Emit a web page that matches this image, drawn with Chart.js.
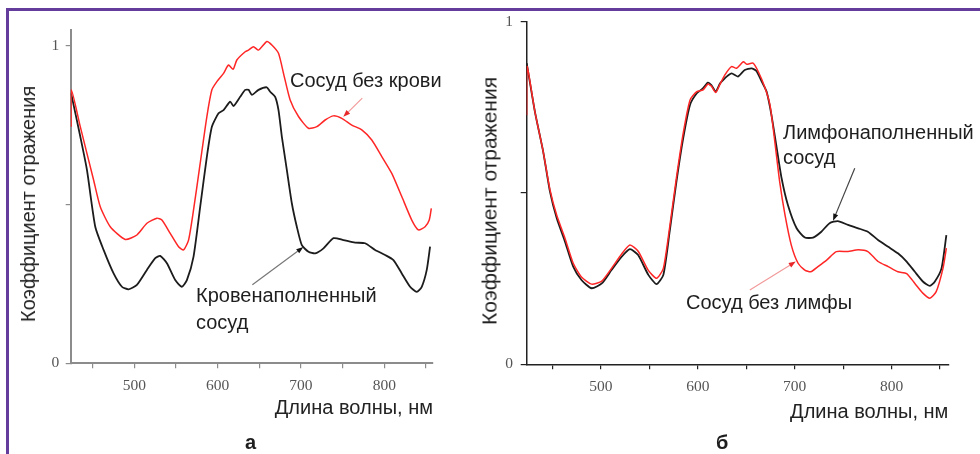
<!DOCTYPE html>
<html>
<head>
<meta charset="utf-8">
<script src="https://cdn.jsdelivr.net/npm/chart.js@4/dist/chart.umd.min.js"></script>
<style>
  body { margin: 0; background: #fff; }
  #page { position: relative; width: 980px; height: 454px; overflow: hidden; background: #fff; }
  canvas { position: absolute; top: 0; }
  .frame { position: absolute; background: #633c9c; }
  .txt { position: absolute; font-family: 'Liberation Sans', Arial, sans-serif; font-size: 20px;
         line-height: 1; color: #1e1e1e; white-space: nowrap; }
  .ytitle { position: absolute; font-family: 'Liberation Sans', Arial, sans-serif; font-size: 20px;
            line-height: 1; color: #222; white-space: nowrap; transform: translate(-50%, -50%) rotate(-90deg); }
  .letter { font-weight: bold; }
</style>
</head>
<body>
<div id="page">
  <div class="frame" style="left:6px; top:8px; width:974px; height:2.5px;"></div>
  <div class="frame" style="left:6px; top:8px; width:2.5px; height:446px;"></div>

  <canvas id="chartA" width="445" height="454" style="left:0px;"></canvas>
  <canvas id="chartB" width="490" height="454" style="left:470px;"></canvas>

  <div class="ytitle" style="left:27.5px; top:204px;">Коэффициент отражения</div>
  <div class="ytitle" style="left:489px; top:201px; font-size:21px;">Коэффициент отражения</div>

  <div class="txt" style="left:290px; top:70px;">Сосуд без крови</div>
  <div class="txt" style="left:196px; top:285px;">Кровенаполненный</div>
  <div class="txt" style="left:196px; top:311.5px;">сосуд</div>
  <div class="txt letter" style="left:245px; top:432px;">а</div>

  <div class="txt" style="left:783px; top:121.5px;">Лимфонаполненный</div>
  <div class="txt" style="left:783px; top:146.5px;">сосуд</div>
  <div class="txt" style="left:686px; top:291.5px;">Сосуд без лимфы</div>
  <div class="txt letter" style="left:716px; top:431.5px;">б</div>
</div>

<script>
// wavelength (nm), reflectance
const aNoBlood = [
  [424, 0.745], [424.3, 0.861], [435, 0.745], [451, 0.577], [459, 0.493], [471, 0.430],
  [489, 0.390], [503, 0.404], [515, 0.441], [527, 0.457], [533, 0.451], [543, 0.409],
  [553, 0.367], [559, 0.357], [565, 0.388], [571, 0.483], [579, 0.630], [587, 0.777],
  [593, 0.861], [599, 0.887], [607, 0.913], [613, 0.939], [618.5, 0.926], [623, 0.955],
  [633, 0.981], [637, 0.986], [643, 0.997], [649, 0.986], [659, 1.013], [665, 1.002],
  [673, 0.976], [679, 0.913], [687, 0.829], [697, 0.777], [709, 0.740], [719, 0.745],
  [729, 0.766], [739, 0.779], [749, 0.771], [761, 0.750], [773, 0.735], [785, 0.703],
  [797, 0.651], [809, 0.598], [821, 0.525], [833, 0.451], [841, 0.420], [849, 0.430],
  [854, 0.451], [856.5, 0.488]
];
const aBlood = [
  [424, 0.850], [435, 0.714], [443, 0.609], [453, 0.430], [463, 0.357], [475, 0.283],
  [485, 0.241], [493, 0.233], [503, 0.247], [515, 0.294], [525, 0.331], [531, 0.338],
  [539, 0.315], [549, 0.262], [557, 0.241], [563, 0.262], [571, 0.336], [579, 0.493],
  [587, 0.651], [593, 0.745], [601, 0.787], [607, 0.797], [615, 0.824], [619, 0.810],
  [627, 0.839], [633, 0.861], [637, 0.861], [641, 0.845], [649, 0.861], [659, 0.869],
  [663, 0.855], [669, 0.839], [673, 0.797], [677, 0.714], [683, 0.609], [689, 0.504],
  [695, 0.430], [701, 0.372], [709, 0.351], [717, 0.346], [727, 0.362], [739, 0.394],
  [751, 0.388], [765, 0.380], [777, 0.378], [789, 0.357], [801, 0.341], [811, 0.325],
  [821, 0.283], [831, 0.241], [839, 0.225], [845, 0.241], [851, 0.294], [855, 0.367]
];
const bLymph = [
  [423.5, 0.879], [432, 0.737], [440.5, 0.621], [447.5, 0.504], [454.5, 0.426], [463, 0.358],
  [471.5, 0.285], [480, 0.246], [490.5, 0.222], [501, 0.236], [511, 0.275], [521.5, 0.314],
  [530, 0.336], [538.5, 0.319], [549, 0.261], [557.5, 0.234], [564.5, 0.261], [571, 0.387],
  [578, 0.533], [585, 0.660], [592, 0.757], [599, 0.791], [605.5, 0.806], [610.5, 0.822],
  [614, 0.815], [618.5, 0.796], [623, 0.820], [628, 0.835], [631.5, 0.844], [635, 0.849],
  [641.5, 0.840], [648.5, 0.859], [655.5, 0.864], [660.5, 0.856], [666, 0.825], [671, 0.796],
  [676, 0.728], [681, 0.640], [686.5, 0.543], [693, 0.465], [702, 0.397], [710.5, 0.370],
  [719, 0.370], [727.5, 0.387], [736, 0.412], [744.5, 0.418], [755, 0.407], [765.5, 0.397],
  [775.5, 0.387], [786, 0.363], [796.5, 0.343], [806.5, 0.324], [815.5, 0.300], [824, 0.270],
  [832.5, 0.241], [839.5, 0.229], [844.5, 0.241], [851.5, 0.280], [856.5, 0.377]
];
const bNoLymph = [
  [423.5, 0.727], [423.8, 0.870], [432, 0.737], [440.5, 0.621], [447.5, 0.510], [454.5, 0.435],
  [463, 0.368], [471.5, 0.295], [480, 0.255], [490.5, 0.234], [501, 0.243], [511, 0.280],
  [521.5, 0.322], [530, 0.348], [538.5, 0.330], [549, 0.274], [557.5, 0.251], [564.5, 0.280],
  [571, 0.400], [578, 0.545], [585, 0.675], [592, 0.771], [599, 0.796], [605.5, 0.801],
  [610.5, 0.818], [614, 0.812], [618.5, 0.793], [623, 0.818], [628, 0.845], [634.8, 0.869],
  [640, 0.864], [647, 0.883], [650.5, 0.876], [657, 0.879], [662.5, 0.854], [669, 0.810],
  [674.5, 0.757], [679.5, 0.650], [684.5, 0.533], [690, 0.436], [696.5, 0.348], [703.5, 0.295],
  [710.5, 0.275], [716.5, 0.270], [724, 0.285], [733, 0.304], [743, 0.329], [755, 0.329],
  [765.5, 0.334], [775.5, 0.329], [786, 0.300], [796.5, 0.285], [806.5, 0.270], [815.5, 0.265],
  [824, 0.236], [832.5, 0.207], [839.5, 0.193], [846, 0.212], [853, 0.280], [856.5, 0.339]
];

const xTicks = [450, 500, 550, 600, 650, 700, 750, 800, 850];
const yTicks = [0, 0.5, 1];
const xTitle = 'Длина волны, нм';

// arrow tail / head in data units [nm, reflectance]
const arrowsA = [
  { from: [773.6, 0.835], to: [750.8, 0.776], red: true },
  { from: [641.6, 0.247], to: [702.8, 0.366], red: false }
];
const arrowsB = [
  { from: [762, 0.572], to: [739.6, 0.419], red: false },
  { from: [653.7, 0.217], to: [701.1, 0.300], red: true }
];

const toXY = arr => arr.map(p => ({ x: p[0], y: p[1] }));

const arrowPlugin = {
  id: 'arrows',
  afterDatasetsDraw(chart, args, opts) {
    const { ctx, scales: { x, y } } = chart;
    (opts.list || []).forEach(a => {
      const x1 = x.getPixelForValue(a.from[0]), y1 = y.getPixelForValue(a.from[1]);
      const x2 = x.getPixelForValue(a.to[0]), y2 = y.getPixelForValue(a.to[1]);
      const ang = Math.atan2(y2 - y1, x2 - x1);
      ctx.save();
      ctx.strokeStyle = a.red ? '#f29a9a' : opts.lineColor;
      ctx.lineWidth = 1.2;
      ctx.beginPath();
      ctx.moveTo(x1, y1);
      ctx.lineTo(x2 - 5 * Math.cos(ang), y2 - 5 * Math.sin(ang));
      ctx.stroke();
      ctx.fillStyle = a.red ? '#e82828' : '#111';
      ctx.beginPath();
      ctx.moveTo(x2, y2);
      ctx.lineTo(x2 - 7 * Math.cos(ang) + 2.6 * Math.sin(ang), y2 - 7 * Math.sin(ang) - 2.6 * Math.cos(ang));
      ctx.lineTo(x2 - 7 * Math.cos(ang) - 2.6 * Math.sin(ang), y2 - 7 * Math.sin(ang) + 2.6 * Math.cos(ang));
      ctx.closePath();
      ctx.fill();
      ctx.restore();
    });
  }
};

function makeChart(id, p) {
  const tickFont = { family: "'Liberation Serif', 'Times New Roman', serif", size: 15.5 };
  return new Chart(document.getElementById(id), {
    type: 'line',
    data: {
      datasets: [
        { data: toXY(p.red), borderColor: '#ff2626', borderWidth: 1.5 },
        { data: toXY(p.black), borderColor: '#1c1c1c', borderWidth: 1.8 }
      ]
    },
    options: {
      responsive: false,
      animation: false,
      events: [],
      layout: { padding: { top: p.padTop, right: p.padRight, left: 0, bottom: 0 } },
      elements: { point: { radius: 0 }, line: { tension: 0.2 } },
      plugins: {
        legend: { display: false },
        tooltip: { enabled: false },
        arrows: { list: p.arrows, lineColor: p.arrowLine }
      },
      scales: {
        x: {
          type: 'linear', min: 423.5, max: 858.5,
          afterBuildTicks: s => { s.ticks = xTicks.map(v => ({ value: v })); },
          afterFit: s => { s.height = p.xHeight; },
          ticks: { font: tickFont, color: '#555', padding: 8, maxRotation: 0, autoSkip: false,
                   callback: v => (v % 100 === 0 ? String(v) : '') },
          grid: { drawOnChartArea: false, drawTicks: true, tickLength: 5, color: p.axis, lineWidth: 1.2 },
          border: { color: p.axis, width: p.axisWidth },
          title: { display: true, text: xTitle, align: 'end', color: '#222',
                   font: { family: "'Liberation Sans', Arial, sans-serif", size: 20 },
                   padding: { top: 0, bottom: p.titlePad } }
        },
        y: {
          type: 'linear', min: 0, max: p.yMax,
          afterBuildTicks: s => { s.ticks = yTicks.map(v => ({ value: v })); },
          afterFit: s => { s.width = p.yWidth; },
          ticks: { font: tickFont, color: '#555', padding: p.yPad,
                   callback: v => (v === 0 || v === 1 ? String(v) : '') },
          grid: { drawOnChartArea: false, drawTicks: true, tickLength: p.yTick, color: p.axis, lineWidth: 1.2 },
          border: { color: p.axis, width: p.axisWidth }
        }
      }
    },
    plugins: [arrowPlugin]
  });
}

makeChart('chartA', {
  red: aNoBlood, black: aBlood, arrows: arrowsA, arrowLine: '#777',
  padTop: 29.8, padRight: 12, xHeight: 90.7, yWidth: 70.7, yMax: 1.05,
  titlePad: 34, yPad: 6.4, yTick: 5, axis: '#8c8c8c', axisWidth: 2
});
makeChart('chartB', {
  red: bNoLymph, black: bLymph, arrows: arrowsB, arrowLine: '#444',
  padTop: 21.7, padRight: 11.7, xHeight: 89.7, yWidth: 56.7, yMax: 1.0,
  titlePad: 30, yPad: 7.7, yTick: 6, axis: '#222', axisWidth: 1.5
});
</script>
</body>
</html>
